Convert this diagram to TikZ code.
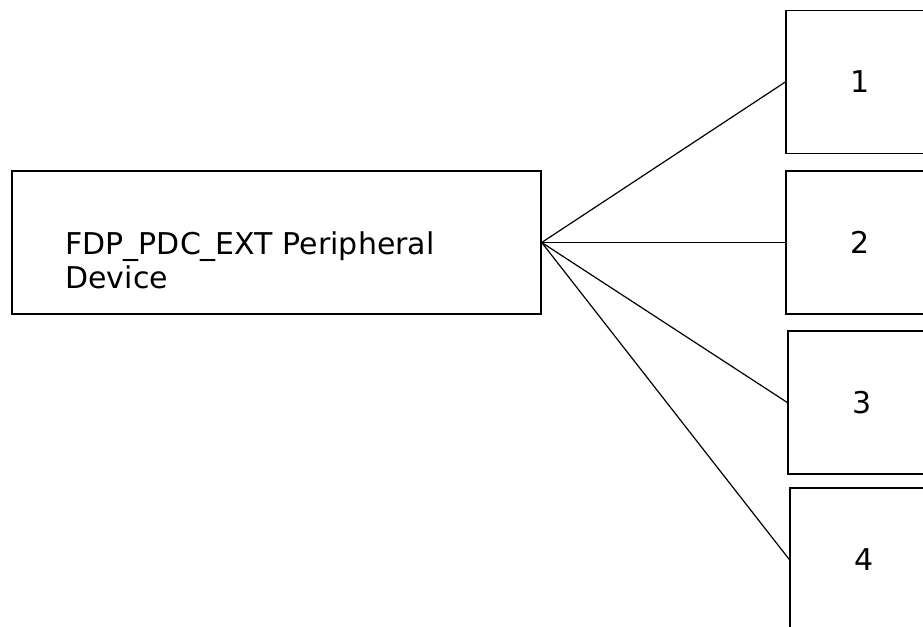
\documentclass[tikz,border=0pt]{standalone}
\usepackage{fontspec}
\setmainfont{DejaVu Sans}
\usepackage{tikz}

\tikzset{
  devbox/.style={draw, line width=0.7pt, minimum width=264.5pt, minimum height=71.5pt, inner sep=0pt},
  portbox/.style={draw, line width=0.7pt, minimum width=74pt, minimum height=71.5pt, inner sep=0pt},
  link/.style={line width=0.6pt}
}

\begin{document}
\begin{tikzpicture}[x=0.5pt,y=-0.5pt,font=\fontsize{15}{17}\selectfont]
\useasboundingbox (0,0) rectangle (923,627);
\clip (0,0) rectangle (923,627);
\node[devbox] (dev) at (276.5,242.5) {};
\node[anchor=west, align=left, inner sep=0pt] (devtext) at (65,260) {FDP\_PDC\_EXT Peripheral\\Device};
\node[portbox] (1) at (860,82) {1};
\node[portbox] (2) at (860,242.5) {2};
\node[portbox] (3) at (862,402.5) {3};
\node[portbox] (4) at (864,559.5) {4};
\draw[link] (dev.east) -- (1.west);
\draw[link] (dev.east) -- (2.west);
\draw[link] (dev.east) -- (3.west);
\draw[link] (dev.east) -- (4.west);
\end{tikzpicture}
\end{document}
